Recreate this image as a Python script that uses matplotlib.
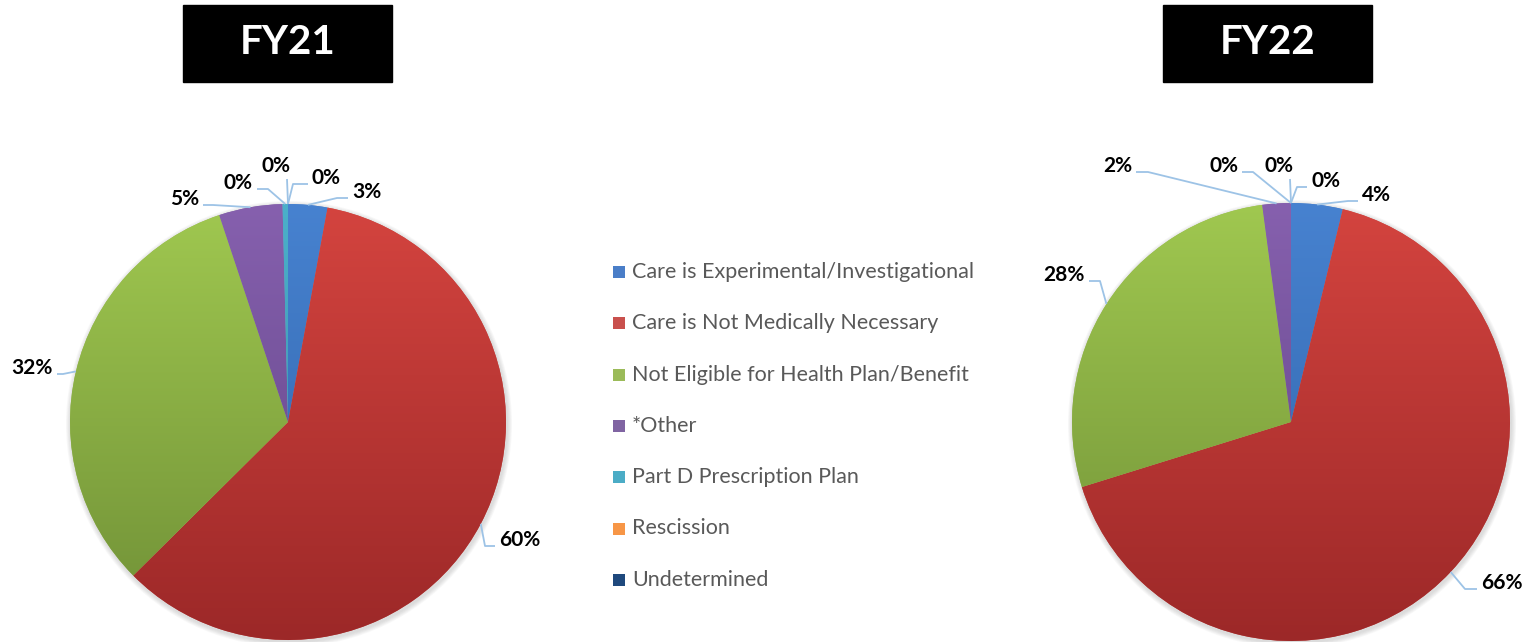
import matplotlib.pyplot as plt
from matplotlib.patches import Rectangle, Circle
import matplotlib.colors as mcolors
import numpy as np

W, H = 1531, 642

categories = ['Care is Experimental/Investigational', 'Care is Not Medically Necessary',
              'Not Eligible for Health Plan/Benefit', '*Other', 'Part D Prescription Plan',
              'Rescission', 'Undetermined']
fy21_values = [2.9, 59.6, 32.3, 4.7, 0.4, 0.0, 0.0]
fy22_values = [3.8, 66.4, 27.7, 2.1, 0.0, 0.0, 0.0]
years = ['FY21', 'FY22']

# (top, bottom) of the vertical gradient in each slice
slice_colors = [('#4782d0', '#2f62a6'), ('#d4443f', '#9c2828'), ('#a0c850', '#6f8f36'),
                ('#8660ae', '#5f4384'), ('#4bb0ca', '#3a8ca6'), ('#f79646', '#d77a30'),
                ('#2a5a92', '#1f497d')]
legend_colors = ['#4a7ec8', '#c9504d', '#9bbb59', '#8064a2', '#4bacc6', '#f79646', '#1f497d']

# pie layout in pixels (y measured from the top)
pies = [dict(cx=288, cy=422, r=218, title_x=287.5), dict(cx=1291, cy=422, r=219, title_x=1267.5)]

# label layout: elbow point, tail point, side of the text
label_layout = [
    [((337, 198), (348, 198), 'l'), ((485, 546), (495, 546), 'l'), ((63, 374), (57, 374), 'r'),
     ((213, 205), (203, 205), 'r'), ((268, 189), (257, 189), 'r'), ((287, 179), (287, 179), 'c'),
     ((293, 184), (308, 184), 'l')],
    [((1348, 201), (1358, 201), 'l'), ((1465, 589), (1477, 589), 'l'), ((1100, 281), (1089, 281), 'r'),
     ((1148, 172), (1136, 172), 'r'), ((1253, 172), (1242, 172), 'r'), ((1290, 179), (1290, 179), 'c'),
     ((1297, 187), (1307, 187), 'l')],
]

LABEL_FONT = dict(fontsize=15, fontweight='bold', family='Lato', color='black')


def Y(y):
    return H - y


fig = plt.figure(figsize=(W / 100, H / 100), dpi=100)
ax = fig.add_axes([0, 0, 1, 1])

for values, pie, layout, year in zip([fy21_values, fy22_values], pies, label_layout, years):
    cx, cy, r = pie['cx'], Y(pie['cy']), pie['r']

    # soft shadow under the pie
    for k in range(6):
        ax.add_patch(Circle((cx + 1, cy - 2), r + 1 + k * 0.8, color='#888888',
                            alpha=0.05, lw=0, zorder=1))

    wedges, _ = ax.pie(values, radius=r, center=(cx, cy), startangle=90, counterclock=False,
                       colors=legend_colors, wedgeprops=dict(linewidth=0), frame=True)
    for w, (top, bot) in zip(wedges, slice_colors):
        w.set_zorder(2)
        grad = np.linspace(mcolors.to_rgb(top), mcolors.to_rgb(bot), 256)[:, None, :]
        im = ax.imshow(grad, extent=(cx - r, cx + r, cy - r, cy + r), origin='upper',
                       aspect='auto', zorder=3, interpolation='bilinear')
        im.set_clip_path(w)

    # data labels with leader lines
    total = sum(values)
    start = 0.0
    for v, (elbow, tail, side) in zip(values, layout):
        mid = np.radians(90 - 360 * (start + v / 2) / total)
        start += v
        ex, ey = cx + r * np.cos(mid), cy + r * np.sin(mid)
        ax.plot([ex, elbow[0], tail[0]], [ey, Y(elbow[1]), Y(tail[1])],
                color='#9dc3e6', lw=1.3, zorder=4, solid_capstyle='butt')
        txt = f'{round(v / total * 100):.0f}%'
        if side == 'l':
            ax.text(tail[0] + 4, Y(tail[1] - 6), txt, ha='left', va='center', **LABEL_FONT)
        elif side == 'r':
            ax.text(tail[0] - 4, Y(tail[1] - 6), txt, ha='right', va='center', **LABEL_FONT)
        else:
            ax.text(tail[0] - 11, Y(tail[1] - 13), txt, ha='center', va='center', **LABEL_FONT)

    # black title box
    ax.add_patch(Rectangle((pie['title_x'] - 104.5, Y(82)), 209, 77, color='black', zorder=5))
    ax.text(pie['title_x'], Y(43), year, ha='center', va='center', color='white',
            fontsize=29, fontweight='bold', family='Lato', zorder=6)

# legend in the middle
for i, (name, col) in enumerate(zip(categories, legend_colors)):
    y = Y(272 + i * 51.3)
    ax.add_patch(Rectangle((613, y - 6), 12, 12, color=col, lw=0))
    ax.text(632, y, name, ha='left', va='center', fontsize=15.5, family='Lato', color='#595959')

ax.set_xlim(0, W)
ax.set_ylim(0, H)
ax.set_aspect('equal')
ax.axis('off')

fig.savefig('out.png', dpi=100, facecolor='white')
